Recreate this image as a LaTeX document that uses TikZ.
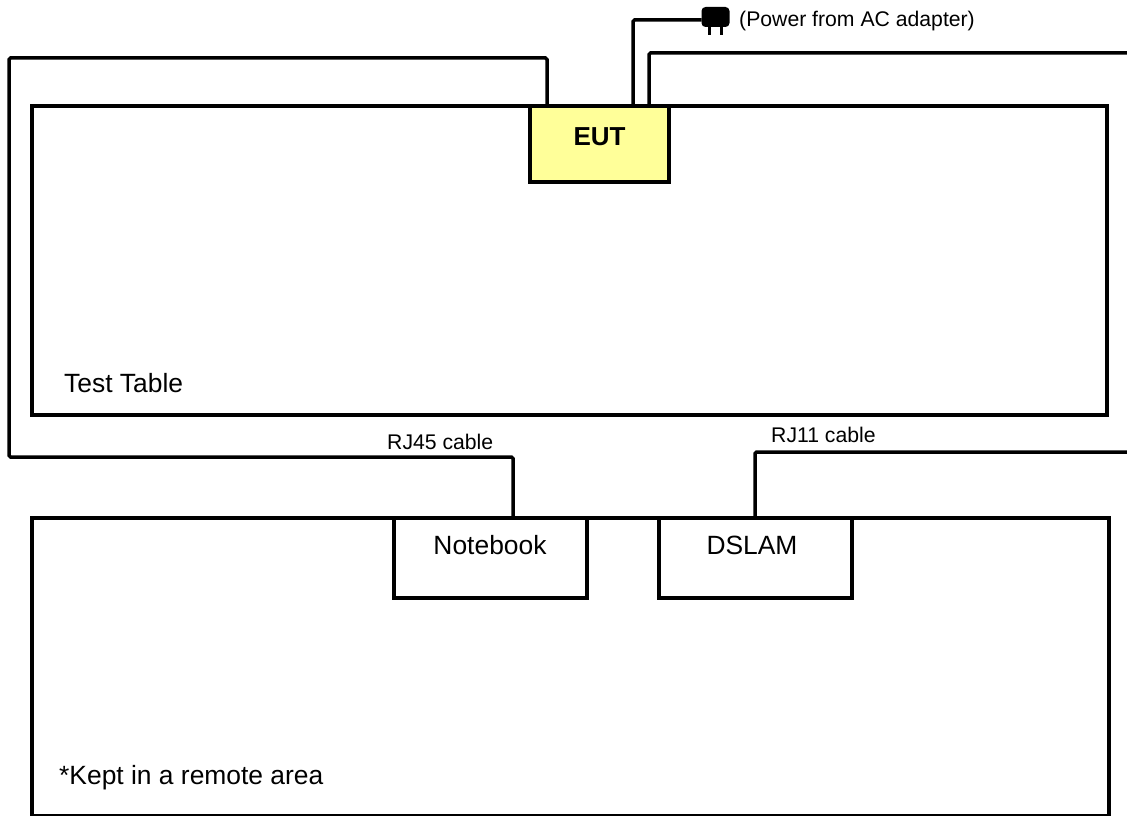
\documentclass[tikz,border=0pt]{standalone}
\usepackage{fontspec}
\setmainfont{Liberation Sans}
\definecolor{eutyellow}{HTML}{FFFF99}
\usetikzlibrary{positioning}

\begin{document}
\begin{tikzpicture}[
  x=1pt, y=-1pt,
  box/.style={draw, line width=3.5pt, rectangle, outer sep=0pt, inner sep=0pt, anchor=north west},
  devbox/.style={box, fill=white, minimum width=193pt, minimum height=80pt},
  cable/.style={line width=3.5pt, rounded corners=1.5pt},
  lbl/.style={inner sep=0pt, anchor=base west, font=\fontsize{26.4}{30}\selectfont},
  cablelbl/.style={inner sep=0pt, anchor=base west, font=\fontsize{21.2}{25}\selectfont},
]
  \useasboundingbox (0,0) rectangle (1127,816);

  % Tables
  \node[box, minimum width=1075pt, minimum height=309pt] (table) at (32,106) {};
  \node[box, minimum width=1077pt, minimum height=298pt] (remote) at (32,518) {};
  \node[lbl] (table-lbl) at (64,392) {Test Table};
  \node[lbl] (remote-lbl) at (59,784) {*Kept in a remote area};

  % Free ends of the cables
  \coordinate (west-a) at (9,58);
  \coordinate (west-b) at (9,457);
  \coordinate (east-a) at (1127,53);
  \coordinate (east-b) at (1127,452);

  % Cables
  \coordinate (eut-rj45) at (547,106);
  \coordinate (eut-pwr) at (633,106);
  \coordinate (eut-rj11) at (649,106);
  \coordinate (nb-rj45) at (513,518);
  \coordinate (ds-rj11) at (755,518);
  \node[fill=black, rounded corners=4pt, minimum width=28pt, minimum height=20pt, inner sep=0pt, outer sep=0pt] (plug) at (715.5,17) {};
  \draw[cable] (eut-rj45) |- (west-a) -- (west-b) -| (nb-rj45);
  \draw[cable] (eut-pwr) |- ([yshift=-3pt]plug.west);
  \draw[cable] (eut-rj11) |- (east-a);
  \draw[cable] (ds-rj11) |- (east-b);
  \draw[line width=3.5pt] (plug.south)+(-6,0) -- +(-6,8);
  \draw[line width=3.5pt] (plug.south)+(6,0) -- +(6,8);

  % Devices
  \node[box, fill=eutyellow, minimum width=139pt, minimum height=76pt] (eut) at (530,106) {};
  \node[lbl, font=\fontsize{26}{30}\selectfont\bfseries, anchor=base] (eut-lbl) at (599.5,145.5) {EUT};
  \node[devbox] (notebook) at (394,518) {};
  \node[devbox, right=72pt of notebook.north east, anchor=north west] (dslam) {};
  \node[lbl, anchor=base] (notebook-lbl) at (490,554) {Notebook};
  \node[lbl, anchor=base] (dslam-lbl) at (752,554) {DSLAM};

  % Labels
  \node[cablelbl] (rj45-lbl) at (387,449) {RJ45 cable};
  \node[cablelbl] (rj11-lbl) at (771,442) {RJ11 cable};
  \node[cablelbl] (pwr-lbl) at (739,27) {(Power from AC adapter)};
\end{tikzpicture}
\end{document}
